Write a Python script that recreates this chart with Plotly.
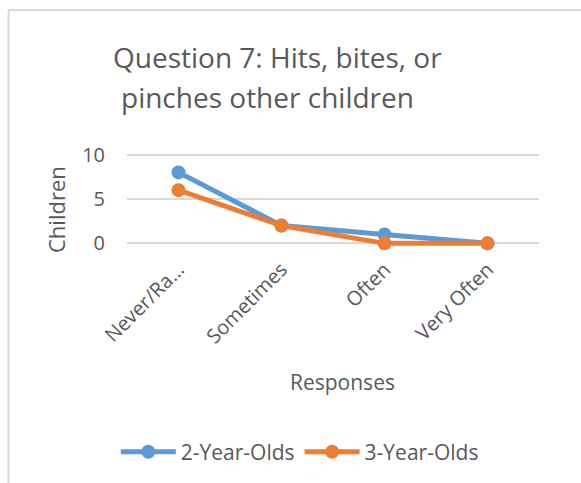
import plotly.graph_objects as go

categories = ["Never/Rarely", "Sometimes", "Often", "Very Often"]
tick_labels = ["Never/Ra...", "Sometimes", "Often", "Very Often"]
two_year_olds = [8, 2, 1, 0]
three_year_olds = [6, 2, 0, 0]

TEXT = "#595959"
GRID = "#d9d9d9"
FONT = "Open Sans"

W, H = 581, 483
M_L, M_R, M_T, M_B = 127, 42, 152, 237
PLOT_W = W - M_L - M_R
PLOT_H = H - M_T - M_B


def px_x(x):
    """Pixel column -> paper x."""
    return (x - M_L) / PLOT_W


def px_y(y):
    """Pixel row -> paper y."""
    return (H - M_B - y) / PLOT_H


fig = go.Figure()
fig.add_trace(go.Scatter(
    x=categories, y=two_year_olds, name="2-Year-Olds",
    mode="lines+markers", cliponaxis=False,
    line=dict(color="#5b9bd5", width=5),
    marker=dict(color="#5b9bd5", size=14),
))
fig.add_trace(go.Scatter(
    x=categories, y=three_year_olds, name="3-Year-Olds",
    mode="lines+markers", cliponaxis=False,
    line=dict(color="#ed7d31", width=5),
    marker=dict(color="#ed7d31", size=14),
))

fig.update_layout(
    width=W, height=H,
    margin=dict(l=M_L, r=M_R, t=M_T, b=M_B),
    paper_bgcolor="white", plot_bgcolor="white",
    font=dict(family=FONT, color=TEXT, size=20),
    showlegend=True,
    legend=dict(
        orientation="h", x=0.516, xanchor="center", xref="container",
        y=0.064, yanchor="middle", yref="container",
        font=dict(size=21, color=TEXT),
        traceorder="normal", itemwidth=55,
    ),
    annotations=[
        dict(text="Question 7: Hits, bites, or",
             xref="paper", yref="paper", x=px_x(277), y=px_y(57),
             xanchor="center", yanchor="middle", showarrow=False,
             font=dict(size=28, color=TEXT, family=FONT)),
        dict(text="pinches other children",
             xref="paper", yref="paper", x=px_x(267), y=px_y(97),
             xanchor="center", yanchor="middle", showarrow=False,
             font=dict(size=28, color=TEXT, family=FONT)),
        dict(text="Responses", xref="paper", yref="paper",
             x=px_x(342), y=px_y(382), xanchor="center", yanchor="middle",
             showarrow=False, font=dict(size=21, color=TEXT, family=FONT)),
        dict(text="Children", xref="paper", yref="paper",
             x=px_x(56), y=px_y(210), xanchor="center", yanchor="middle",
             textangle=-90, showarrow=False,
             font=dict(size=22, color=TEXT, family=FONT)),
    ],
    shapes=[
        # chart-area frame (top and left edges)
        dict(type="line", xref="paper", yref="paper",
             x0=px_x(8.5), x1=px_x(600), y0=px_y(10), y1=px_y(10),
             line=dict(color=GRID, width=2)),
        dict(type="line", xref="paper", yref="paper",
             x0=px_x(8.5), x1=px_x(8.5), y0=px_y(10), y1=px_y(500),
             line=dict(color=GRID, width=2)),
    ],
)

fig.update_xaxes(
    type="category", range=[-0.5, 3.5],
    tickmode="array", tickvals=categories, ticktext=tick_labels,
    tickangle=-45, tickfont=dict(size=20, color=TEXT),
    showgrid=False, showline=False, zeroline=False, ticks="",
    ticklabelstandoff=7,
)
fig.update_yaxes(
    range=[-0.3, 10.3], tickvals=[0, 5, 10],
    tickfont=dict(size=20, color=TEXT),
    showgrid=True, gridcolor=GRID, gridwidth=1.5,
    zeroline=True, zerolinecolor=GRID, zerolinewidth=1.5,
    showline=False, ticks="", ticklabelstandoff=21,
)

fig.write_html("out.html")
